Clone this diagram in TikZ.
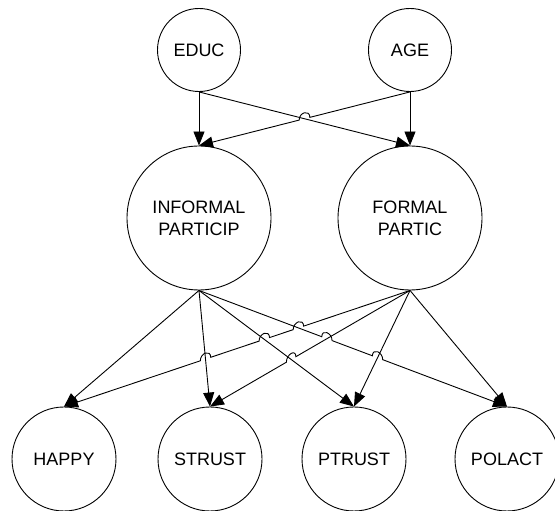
\documentclass[tikz,border=0pt]{standalone}
\usepackage{fontspec}
\setmainfont{Liberation Sans}
\usetikzlibrary{arrows.meta}
\usetikzlibrary{calc}
\tikzset{
    construct/.style={draw=black, circle, inner sep=0pt, line width=0.9pt,
        font=\fontsize{18}{22}\selectfont, align=center},
    exovar/.style={construct, minimum size=83pt},
    midvar/.style={construct, minimum size=144pt},
    endovar/.style={construct, minimum size=104pt},
    effect/.style={draw=black, line width=0.9pt,
        -{Triangle[length=14pt,width=11pt]}},
}
% line jump over a crossing point #1, on a line from #2 to #3
\newcommand{\hump}[3]{-- ($(#1)!5.5pt!(#2)$) .. controls +(0,8pt) and +(0,8pt) .. ($(#1)!5.5pt!(#3)$)}

\begin{document}
\begin{tikzpicture}[x=1pt, y=1pt]
	\useasboundingbox (0,0) rectangle (555,511);
	\node[exovar] (educ) at (199,461) {EDUC};
	\node[exovar] (age) at (410,461) {AGE};
	\node[midvar] (informal) at (199,293) {INFORMAL\\PARTICIP};
	\node[midvar] (formal) at (410,293) {FORMAL\\PARTIC};
	\node[endovar] (happy) at (64,52) {HAPPY};
	\node[endovar] (strust) at (210,52) {STRUST};
	\node[endovar] (ptrust) at (354,52) {PTRUST};
	\node[endovar] (polact) at (507,52) {POLACT};
	% crossing points
	\coordinate (xtop) at (intersection cs: first line={(educ.south)--(formal.north)}, second line={(age.south)--(informal.north)});
	\coordinate (x12) at (intersection cs: first line={(formal.south)--(happy.north)}, second line={(informal.south)--(strust.north)});
	\coordinate (x13) at (intersection cs: first line={(formal.south)--(happy.north)}, second line={(informal.south)--(ptrust.north)});
	\coordinate (x14) at (intersection cs: first line={(formal.south)--(happy.north)}, second line={(informal.south)--(polact.north)});
	\coordinate (x23) at (intersection cs: first line={(formal.south)--(strust.north)}, second line={(informal.south)--(ptrust.north)});
	\coordinate (x24) at (intersection cs: first line={(formal.south)--(strust.north)}, second line={(informal.south)--(polact.north)});
	\coordinate (x34) at (intersection cs: first line={(formal.south)--(ptrust.north)}, second line={(informal.south)--(polact.north)});
	% upper paths
	\draw[effect] (educ.south)--(informal.north);
	\draw[effect] (educ.south)--(formal.north);
	\draw[effect] (age.south)--(formal.north);
	\draw[effect] (age.south) \hump{xtop}{age.south}{informal.north} -- (informal.north);
	% lower paths
	\draw[effect] (informal.south)--(happy.north);
	\draw[effect] (informal.south)--(strust.north);
	\draw[effect] (informal.south)--(ptrust.north);
	\draw[effect] (informal.south) \hump{x24}{informal.south}{polact.north} \hump{x34}{informal.south}{polact.north} -- (polact.north);
	\draw[effect] (formal.south) \hump{x14}{formal.south}{happy.north} \hump{x13}{formal.south}{happy.north} \hump{x12}{formal.south}{happy.north} -- (happy.north);
	\draw[effect] (formal.south) \hump{x23}{formal.south}{strust.north} -- (strust.north);
	\draw[effect] (formal.south)--(ptrust.north);
	\draw[effect] (formal.south)--(polact.north);
\end{tikzpicture}
\end{document}
